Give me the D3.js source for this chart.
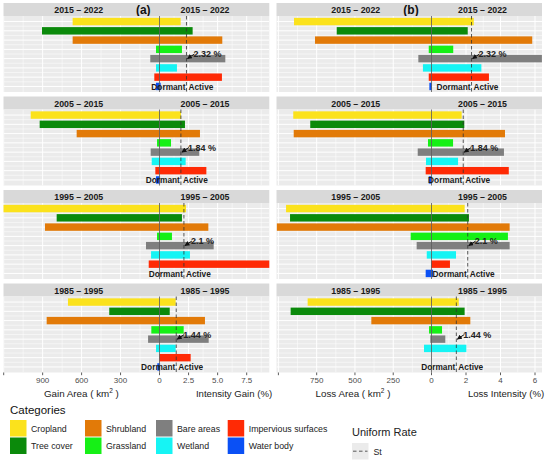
<!DOCTYPE html>
<html>
<head>
<meta charset="utf-8">
<script src="https://cdn.jsdelivr.net/npm/d3@7"></script>
<style>
body { margin: 0; background: #fff; }
text { font-family: "Liberation Sans", Arial, sans-serif; }
</style>
</head>
<body>
<svg id="chart" width="550" height="463"></svg>
<script>
var categories = ["Cropland", "Tree cover", "Shrubland", "Grassland", "Bare areas", "Wetland", "Impervious surfaces", "Water body"];
var catColors = ["#FBE21C", "#0B8A0B", "#E27A08", "#16F016", "#7F7F7F", "#16F4F4", "#FF2A05", "#0A50F5"];
var periods = ["2015 – 2022", "2005 – 2015", "1995 – 2005", "1985 – 1995"];
var uniformRate = [2.32, 1.84, 2.1, 1.44];

// gain (a): area km2 and intensity %
var gainArea = [
    [669, 905, 669, 27, 71, 27, 40, 27],
    [992, 923, 638, 19, 68, 60, 32, 27],
    [1250, 792, 882, 19, 104, 65, 83, null],
    [705, 387, 869, 63, 88, 27, 2, 17]
];
var gainInt = [
    [1.82, 2.85, 5.4, 1.93, 5.66, 1.5, 5.37, 0.1],
    [1.85, 2.19, 3.48, 0.99, 3.42, 2.25, 4.03, 0.05],
    [2.28, 1.93, 4.2, 1.07, 4.66, 2.62, 9.6, null],
    [1.39, 0.88, 3.91, 2.08, 4.23, 1.39, 2.68, 0.05]
];
// loss (b)
var lossArea = [
    [898, 619, 761, 18, 86, 56, 18, 14],
    [903, 792, 900, 23, 90, 36, 38, 18],
    [950, 924, 1011, 136, 97, 31, 3, 38],
    [809, 920, 393, 16, 8, 49, null, null]
];
var lossInt = [
    [2.45, 2.1, 5.84, 1.26, 6.4, 2.89, 3.33, 0.03],
    [1.75, 1.9, 4.26, 1.25, 4.2, 1.54, 4.48, 0.02],
    [1.92, 2.17, 4.53, 4.43, 4.53, 1.42, 1.07, 0.09],
    [1.58, 1.92, 2.25, 0.61, 0.8, 2.02, null, null]
];

var svg = d3.select("#chart");

var cols = [
    {
        tag: "(a)", tagX: 143.3, area: gainArea, inten: gainInt,
        x0: 3.5, x1: 269.3, stripL: 78.8, stripR: 205,
        xa: d3.scaleLinear().domain([0, 1200]).range([159.5, 3.7]),
        xi: d3.scaleLinear().domain([0, 7.5]).range([159.5, 246.7]),
        areaTicks: [0, 300, 600, 900, 1200], areaLabelMax: 900,
        intTicks: [2.5, 5, 7.5], intFmt: d3.format(".1f"),
        areaTitle: "Gain Area ( km", areaTitleX: 81.4, intTitle: "Intensity Gain (%)", intTitleX: 234
    },
    {
        tag: "(b)", tagX: 411, area: lossArea, inten: lossInt,
        x0: 276.5, x1: 542, stripL: 355.8, stripR: 482.5,
        xa: d3.scaleLinear().domain([0, 1000]).range([431.5, 278.4]),
        xi: d3.scaleLinear().domain([0, 6]).range([431.5, 535]),
        areaTicks: [0, 250, 500, 750, 1000], areaLabelMax: 750,
        intTicks: [2, 4, 6], intFmt: d3.format("d"),
        areaTitle: "Loss Area ( km", areaTitleX: 353, intTitle: "Loss Intensity (%)", intTitleX: 506
    }
];

var rowStep = 93.5, stripH = 13, panelH = 76;

var defs = svg.append("defs");
defs.append("marker")
    .attr("id", "arrow")
    .attr("viewBox", "0 0 10 10")
    .attr("refX", 9).attr("refY", 5)
    .attr("markerWidth", 5).attr("markerHeight", 5)
    .attr("orient", "auto")
    .append("path").attr("d", "M0,0 L10,5 L0,10 z").attr("fill", "#111");

cols.forEach(function (c, ci) {
    periods.forEach(function (p, r) {
        var top = 3 + r * rowStep;
        var pTop = top + stripH, pBot = pTop + panelH;
        var y = d3.scalePoint().domain(categories).range([pTop, pBot]).padding(0.6);
        var step = y.step();
        var g = svg.append("g");

        // strip
        g.append("rect").attr("x", c.x0).attr("y", top).attr("width", c.x1 - c.x0).attr("height", stripH)
            .attr("fill", "#D9D9D9");
        g.selectAll("text.strip").data([[c.stripL, p], [c.stripR, p]]).enter().append("text")
            .attr("x", function (d) { return d[0]; })
            .attr("y", top + 10.2)
            .attr("text-anchor", "middle")
            .attr("font-size", "8.8px").attr("font-weight", "bold").attr("fill", "#1A1A1A")
            .text(function (d) { return d[1]; });
        if (r == 0) {
            g.append("text").attr("x", c.tagX).attr("y", top + 10.8).attr("text-anchor", "middle")
                .attr("font-size", "12px").attr("font-weight", "bold").attr("fill", "#111").text(c.tag);
        }

        // panel
        var clipId = "clip" + ci + r;
        defs.append("clipPath").attr("id", clipId).append("rect")
            .attr("x", c.x0).attr("y", pTop).attr("width", c.x1 - c.x0).attr("height", panelH);
        g.append("rect").attr("x", c.x0).attr("y", pTop).attr("width", c.x1 - c.x0).attr("height", panelH)
            .attr("fill", "#EBEBEB");

        var grid = g.append("g").attr("clip-path", "url(#" + clipId + ")");
        // minor vertical grid
        var minorA = c.areaTicks.slice(1).map(function (t, i) { return (t + c.areaTicks[i]) / 2; });
        var it = [0].concat(c.intTicks, [c.intTicks[c.intTicks.length - 1] + (c.intTicks[1] - c.intTicks[0])]);
        var minorI = it.slice(1).map(function (t, i) { return (t + it[i]) / 2; });
        var vMinor = minorA.map(c.xa).concat(minorI.map(c.xi));
        var vMajor = c.areaTicks.map(c.xa).concat(c.intTicks.map(c.xi));
        grid.selectAll("line.vmin").data(vMinor).enter().append("line")
            .attr("x1", function (d) { return d; }).attr("x2", function (d) { return d; })
            .attr("y1", pTop).attr("y2", pBot).attr("stroke", "#fff").attr("stroke-width", 0.5);
        grid.selectAll("line.vmaj").data(vMajor).enter().append("line")
            .attr("x1", function (d) { return d; }).attr("x2", function (d) { return d; })
            .attr("y1", pTop).attr("y2", pBot).attr("stroke", "#fff").attr("stroke-width", 1);
        var hMinor = categories.slice(1).map(function (k) { return y(k) - step / 2; });
        grid.selectAll("line.hmin").data(hMinor).enter().append("line")
            .attr("x1", c.x0).attr("x2", c.x1)
            .attr("y1", function (d) { return d; }).attr("y2", function (d) { return d; })
            .attr("stroke", "#fff").attr("stroke-width", 0.5);
        grid.selectAll("line.hmaj").data(categories).enter().append("line")
            .attr("x1", c.x0).attr("x2", c.x1)
            .attr("y1", function (d) { return y(d); }).attr("y2", function (d) { return y(d); })
            .attr("stroke", "#fff").attr("stroke-width", 1);

        // bars
        var rows = categories.map(function (k, i) {
            return { cat: k, color: catColors[i], area: c.area[r][i], inten: c.inten[r][i] };
        });
        var barH = step * 0.8;
        grid.selectAll("rect.area").data(rows.filter(function (d) { return d.area != null; })).enter()
            .append("rect")
            .attr("x", function (d) { return c.xa(d.area); })
            .attr("width", function (d) { return c.xa(0) - c.xa(d.area); })
            .attr("y", function (d) { return y(d.cat) - barH / 2; })
            .attr("height", barH)
            .attr("fill", function (d) { return d.color; });
        grid.selectAll("rect.int").data(rows.filter(function (d) { return d.inten != null; })).enter()
            .append("rect")
            .attr("x", c.xi(0))
            .attr("width", function (d) { return c.xi(d.inten) - c.xi(0); })
            .attr("y", function (d) { return y(d.cat) - barH / 2; })
            .attr("height", barH)
            .attr("fill", function (d) { return d.color; });

        // zero line and uniform rate
        var xz = c.xi(0), xd = c.xi(uniformRate[r]);
        g.append("line").attr("x1", xz).attr("x2", xz).attr("y1", pTop).attr("y2", pBot)
            .attr("stroke", "#555").attr("stroke-width", 0.8);
        g.append("line").attr("x1", xd).attr("x2", xd).attr("y1", pTop).attr("y2", pBot)
            .attr("stroke", "#333").attr("stroke-width", 0.8).attr("stroke-dasharray", "3.5,2.5");

        // annotation
        var ya = y("Grassland") + step / 2, yb = y("Bare areas");
        g.append("line").attr("x1", xd + 8).attr("y1", ya).attr("x2", xd + 1).attr("y2", yb)
            .attr("stroke", "#111").attr("stroke-width", 1).attr("marker-end", "url(#arrow)");
        g.append("text").attr("x", xd + 7).attr("y", ya + 3)
            .attr("font-size", "9px").attr("font-weight", "bold").attr("fill", "#222")
            .text(uniformRate[r] + " %");
        var yl = y("Water body") + 3.5;
        g.append("text").attr("x", xd - 1).attr("y", yl).attr("text-anchor", "end")
            .attr("font-size", "8.3px").attr("font-weight", "bold").attr("fill", "#1A1A1A").text("Dormant");
        g.append("text").attr("x", xd + 2).attr("y", yl)
            .attr("font-size", "8.3px").attr("font-weight", "bold").attr("fill", "#1A1A1A").text("Active");

        // bottom axis on last row
        if (r == periods.length - 1) {
            var ax = svg.append("g");
            var tks = c.areaTicks.map(function (t) {
                return { x: c.xa(t), label: t <= c.areaLabelMax ? String(t) : "" };
            }).concat(c.intTicks.map(function (t) { return { x: c.xi(t), label: c.intFmt(t) }; }));
            ax.selectAll("line").data(tks).enter().append("line")
                .attr("x1", function (d) { return d.x; }).attr("x2", function (d) { return d.x; })
                .attr("y1", pBot).attr("y2", pBot + 2.7).attr("stroke", "#333").attr("stroke-width", 0.8);
            ax.selectAll("text").data(tks).enter().append("text")
                .attr("x", function (d) { return d.x; }).attr("y", pBot + 10.5)
                .attr("text-anchor", "middle").attr("font-size", "8px").attr("fill", "#4D4D4D")
                .text(function (d) { return d.label; });
            var t1 = ax.append("text").attr("x", c.areaTitleX).attr("y", pBot + 24.5)
                .attr("text-anchor", "middle").attr("font-size", "9.8px").attr("fill", "#222");
            t1.append("tspan").text(c.areaTitle);
            t1.append("tspan").attr("dy", -4).attr("font-size", "6.5px").text("2");
            t1.append("tspan").attr("dy", 4).text(" )");
            ax.append("text").attr("x", c.intTitleX).attr("y", pBot + 24.5)
                .attr("text-anchor", "middle").attr("font-size", "9.6px").attr("fill", "#222")
                .text(c.intTitle);
        }
    });
});

// legend
var leg = svg.append("g");
leg.append("text").attr("x", 10).attr("y", 413.5).attr("font-size", "11.5px").attr("fill", "#111").text("Categories");
var legX = [10, 85, 156, 227.7];
categories.forEach(function (k, i) {
    var lx = legX[Math.floor(i / 2)], ly = 420 + (i % 2) * 17.5;
    leg.append("rect").attr("x", lx).attr("y", ly).attr("width", 16.5).attr("height", 16.5).attr("fill", catColors[i]);
    leg.append("text").attr("x", lx + 21).attr("y", ly + 11.5).attr("font-size", "8.8px").attr("fill", "#222").text(k);
});
leg.append("text").attr("x", 352).attr("y", 435.5).attr("font-size", "11px").attr("fill", "#222").text("Uniform Rate");
leg.append("rect").attr("x", 352).attr("y", 443).attr("width", 16.5).attr("height", 16.5).attr("fill", "#EBEBEB");
leg.append("line").attr("x1", 353).attr("x2", 367.5).attr("y1", 451.2).attr("y2", 451.2)
    .attr("stroke", "#333").attr("stroke-width", 0.8).attr("stroke-dasharray", "3.5,2.5");
leg.append("text").attr("x", 373.5).attr("y", 454.5).attr("font-size", "8.8px").attr("fill", "#222").text("St");
</script>
</body>
</html>
